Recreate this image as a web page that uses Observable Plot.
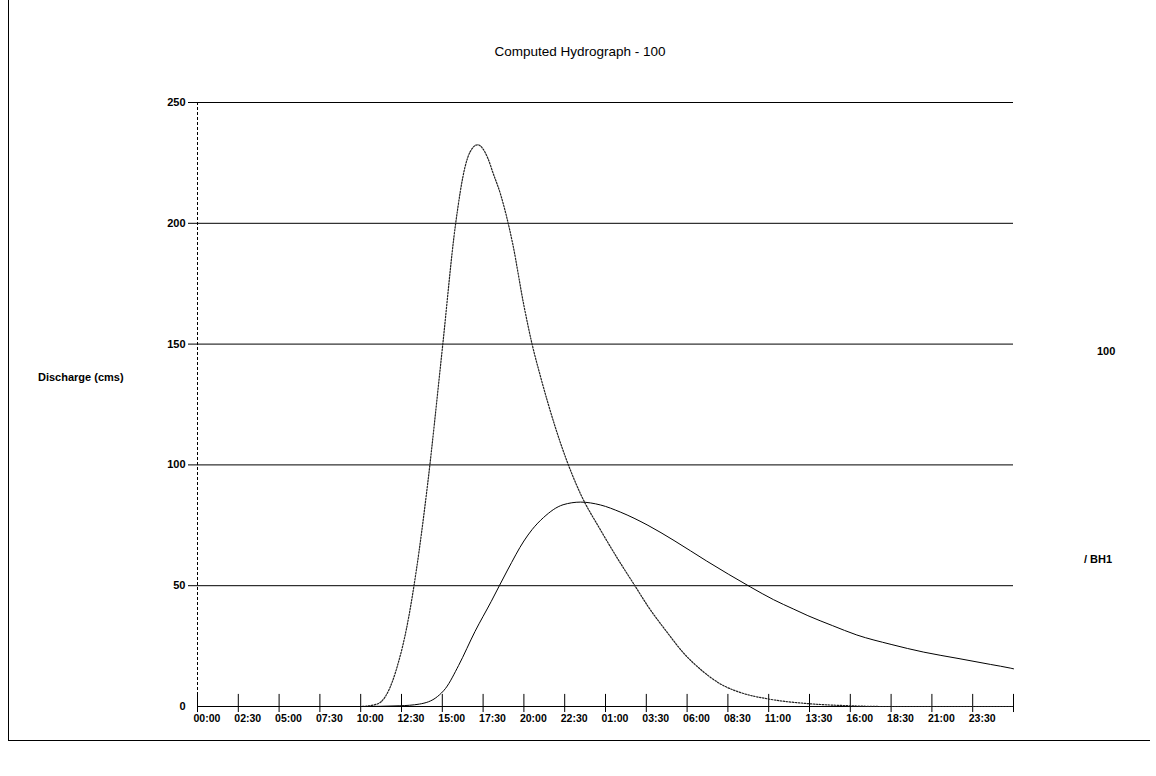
<!DOCTYPE html>
<html>
<head>
<meta charset="utf-8">
<script src="https://cdn.jsdelivr.net/npm/d3@7"></script>
<script src="https://cdn.jsdelivr.net/npm/@observablehq/plot@0.6"></script>
<style>
  html, body { margin: 0; padding: 0; background: #fff; }
  #wrap { position: relative; width: 1156px; height: 776px; overflow: hidden; font-family: "Liberation Sans", Arial, sans-serif; }
  #wrap svg { position: absolute; left: 0; top: 0; }
  .lbl { position: absolute; color: #000; white-space: nowrap; }
  .frame { position: absolute; background: #000; }
</style>
</head>
<body>
<div id="wrap">
  <div class="frame" style="left:8px;top:0;width:1px;height:741px;"></div>
  <div class="frame" style="left:8px;top:740px;width:1142px;height:1px;"></div>
  <div class="lbl" style="left:0;width:1160px;top:44px;text-align:center;font-size:13.5px;">Computed Hydrograph - 100</div>
  <div class="lbl" style="left:38px;top:371px;font-size:11px;font-weight:bold;">Discharge (cms)</div>
  <div class="lbl" style="left:1097px;top:345px;font-size:11px;font-weight:bold;">100</div>
  <div class="lbl" style="left:1084px;top:553px;font-size:11px;font-weight:bold;">/ BH1</div>
</div>
<script>
// Hours from start of simulation (0 = 00:00 day 1)
const hoursA = [0, 5, 10, 11, 11.5, 11.95, 12.3, 12.8, 13.4, 14.1, 15.0, 15.8, 16.4, 16.7, 17.16, 17.8, 18.1, 18.57, 18.93, 19.3, 20.0, 20.5, 21.0, 21.5, 22.0, 22.67, 23.47, 24.7, 25.9, 26.8, 27.6, 28.8, 29.8, 30.8, 32.0, 33.4, 34.9, 37.4, 40, 42, 45, 50];
const flowA  = [0, 0, 0, 1, 4, 10.5, 18, 32, 56, 92, 148, 199, 223.5, 229.5, 232.5, 226.8, 221, 212, 203, 192, 166, 150, 137, 125, 114, 101, 88, 73, 59.5, 50, 41.5, 30.5, 22, 15.5, 9.5, 5.5, 3.2, 1.2, 0.3, 0, 0, 0];

const hoursB = [0, 5, 10, 12.4, 13.6, 14.7, 15.2, 16.0, 17.0, 18.0, 19.0, 20.0, 20.5, 21.2, 22.4, 23.47, 24.7, 25.9, 27.6, 29.2, 31.2, 33.9, 35.3, 36.5, 37.4, 38.9, 40.4, 42.5, 44.5, 46.6, 48.6, 49.8, 50];
const flowB  = [0, 0, 0, 0.3, 1, 4.1, 7.5, 17, 31, 43.5, 56.5, 68.5, 73.2, 78.2, 83.5, 84.6, 83.4, 80.5, 75, 68.7, 60.2, 49.4, 44.2, 40.4, 37.6, 33.5, 29.6, 25.7, 22.5, 19.9, 17.4, 15.9, 15.6];

const xTickHours = [0, 2.5, 5, 7.5, 10, 12.5, 15, 17.5, 20, 22.5, 25, 27.5, 30, 32.5, 35, 37.5, 40, 42.5, 45, 47.5];
const xTickLabels = ["00:00", "02:30", "05:00", "07:30", "10:00", "12:30", "15:00", "17:30", "20:00", "22:30", "01:00", "03:30", "06:00", "08:30", "11:00", "13:30", "16:00", "18:30", "21:00", "23:30"];
const yTicks = [0, 50, 100, 150, 200, 250];
const gridValues = [50, 100, 150, 200, 250];
const tickMarks = [0, 2.5, 5, 7.5, 10, 12.5, 15, 17.5, 20, 22.5, 25, 27.5, 30, 32.5, 35, 37.5, 40, 42.5, 45, 47.5, 50];

const seriesA = hoursA.map((h, i) => ({h, q: flowA[i]}));
const seriesB = hoursB.map((h, i) => ({h, q: flowB[i]}));

const chart = Plot.plot({
  width: 1156,
  height: 776,
  marginLeft: 197,
  marginRight: 143,
  marginTop: 102,
  marginBottom: 70,
  style: {fontFamily: "'Liberation Sans', Arial, sans-serif", background: "transparent"},
  x: {domain: [0, 50]},
  y: {domain: [0, 250]},
  marks: [
    // gridlines
    Plot.ruleY(gridValues, {insetLeft: -9, stroke: "#000", strokeWidth: 1}),
    // axes lines
    Plot.ruleY([0], {stroke: "#000", strokeWidth: 1}),
    Plot.ruleX([0], {stroke: "#000", strokeWidth: 1, strokeDasharray: "3,2"}),
    Plot.ruleX(tickMarks, {y1: -2.5, y2: 5, stroke: "#000", strokeWidth: 1}),
    Plot.axisY({ticks: yTicks, tickSize: 0, tickPadding: 12, fontSize: 11, fontWeight: "bold", label: null}),
    Plot.axisX({ticks: xTickHours, tickFormat: (d) => xTickLabels[xTickHours.indexOf(d)], tickSize: 0, tickPadding: 8, textAnchor: "start", dx: -4, fontSize: 10.5, fontWeight: "bold", label: null}),
    // hydrographs
    Plot.line(seriesA, {x: "h", y: "q", curve: "monotone-x", stroke: "#222", strokeWidth: 1.2, strokeDasharray: "1.5,1.5"}),
    Plot.line(seriesB, {x: "h", y: "q", curve: "monotone-x", stroke: "#000", strokeWidth: 1})
  ]
});
document.getElementById("wrap").prepend(chart);
</script>
</body>
</html>
